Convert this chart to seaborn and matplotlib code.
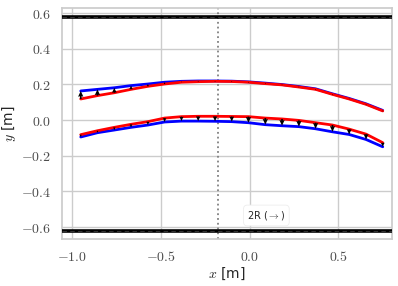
import numpy as np
import matplotlib
matplotlib.use("Agg")
import matplotlib.pyplot as plt
import seaborn as sns
from matplotlib.ticker import FuncFormatter

# sample positions along x
x = [-0.95, -0.856, -0.761, -0.667, -0.572, -0.478, -0.383, -0.289, -0.194, -0.1,
     -0.006, 0.089, 0.183, 0.278, 0.372, 0.467, 0.561, 0.656, 0.75]

# upper surface: blue (target) and red (current)
upper_blue = [0.163, 0.172, 0.181, 0.193, 0.202, 0.212, 0.217, 0.219, 0.219, 0.218,
              0.214, 0.207, 0.199, 0.188, 0.175, 0.147, 0.121, 0.091, 0.054]
upper_red = [0.118, 0.137, 0.153, 0.172, 0.189, 0.202, 0.212, 0.215, 0.217, 0.216,
             0.212, 0.204, 0.197, 0.185, 0.172, 0.144, 0.118, 0.088, 0.051]

# lower surface
lower_blue = [-0.095, -0.071, -0.056, -0.041, -0.028, -0.011, -0.006, -0.006, -0.007, -0.009,
              -0.015, -0.026, -0.032, -0.037, -0.049, -0.066, -0.081, -0.109, -0.150]
lower_red = [-0.082, -0.060, -0.041, -0.024, -0.009, 0.011, 0.019, 0.021, 0.021, 0.020,
             0.019, 0.011, 0.006, -0.002, -0.015, -0.028, -0.051, -0.079, -0.127]

wall_top = 0.577
wall_bottom = -0.62
x_mid = -0.177

sns.set_theme(style="whitegrid")
plt.rcParams["mathtext.fontset"] = "cm"
plt.rcParams["font.family"] = ["DejaVu Sans"]

fig = plt.figure(figsize=(3.98, 2.86), dpi=100)
ax = fig.add_axes([0.156, 0.163, 0.828, 0.809])

# walls: thick black with a faint dashed overlay
for yw in (wall_top, wall_bottom):
    ax.axhline(yw, color="black", lw=2.6, zorder=3)
    ax.axhline(yw, color="0.2", lw=0.8, ls="--", dashes=(4, 3), zorder=4)

ax.axvline(x_mid, color="0.5", lw=1.3, ls=":", zorder=2)

sns.lineplot(x=x, y=upper_blue, color="blue", lw=2, ax=ax, zorder=5)
sns.lineplot(x=x, y=lower_blue, color="blue", lw=2, ax=ax, zorder=5)
sns.lineplot(x=x, y=upper_red, color="red", lw=2, ax=ax, zorder=6)
sns.lineplot(x=x, y=lower_red, color="red", lw=2, ax=ax, zorder=6)

xa = np.array(x)
for red, blue in ((upper_red, upper_blue), (lower_red, lower_blue)):
    r = np.array(red)
    b = np.array(blue)
    ax.quiver(xa, r, np.zeros_like(xa), b - r, angles="xy", scale_units="xy", scale=1,
              color="black", width=0.005, headwidth=3.2, headlength=3.5, headaxislength=3.2,
              minlength=0.5, zorder=7)

ax.text(0.095, -0.535, r"2R ($\rightarrow$)", fontsize=7, ha="center", va="center",
        color="0.15",
        bbox=dict(boxstyle="round,pad=0.4", fc="white", ec="0.93", lw=0.6))

ax.set_xlim(-1.055, 0.80)
ax.set_ylim(-0.669, 0.628)
ax.set_xticks([-1.0, -0.5, 0.0, 0.5])
ax.set_yticks([-0.6, -0.4, -0.2, 0.0, 0.2, 0.4, 0.6])
fmt = FuncFormatter(lambda v, p: "$%.1f$" % v)
ax.xaxis.set_major_formatter(fmt)
ax.yaxis.set_major_formatter(fmt)
ax.tick_params(labelsize=10, labelcolor="0.3", pad=2)
ax.set_xlabel(r"$x$ [m]", fontsize=10, color="0.15", labelpad=1)
ax.set_ylabel(r"$y$ [m]", fontsize=10, color="0.15", labelpad=2)
for s in ax.spines.values():
    s.set_color("0.8")

fig.savefig("out.png", dpi=100)
